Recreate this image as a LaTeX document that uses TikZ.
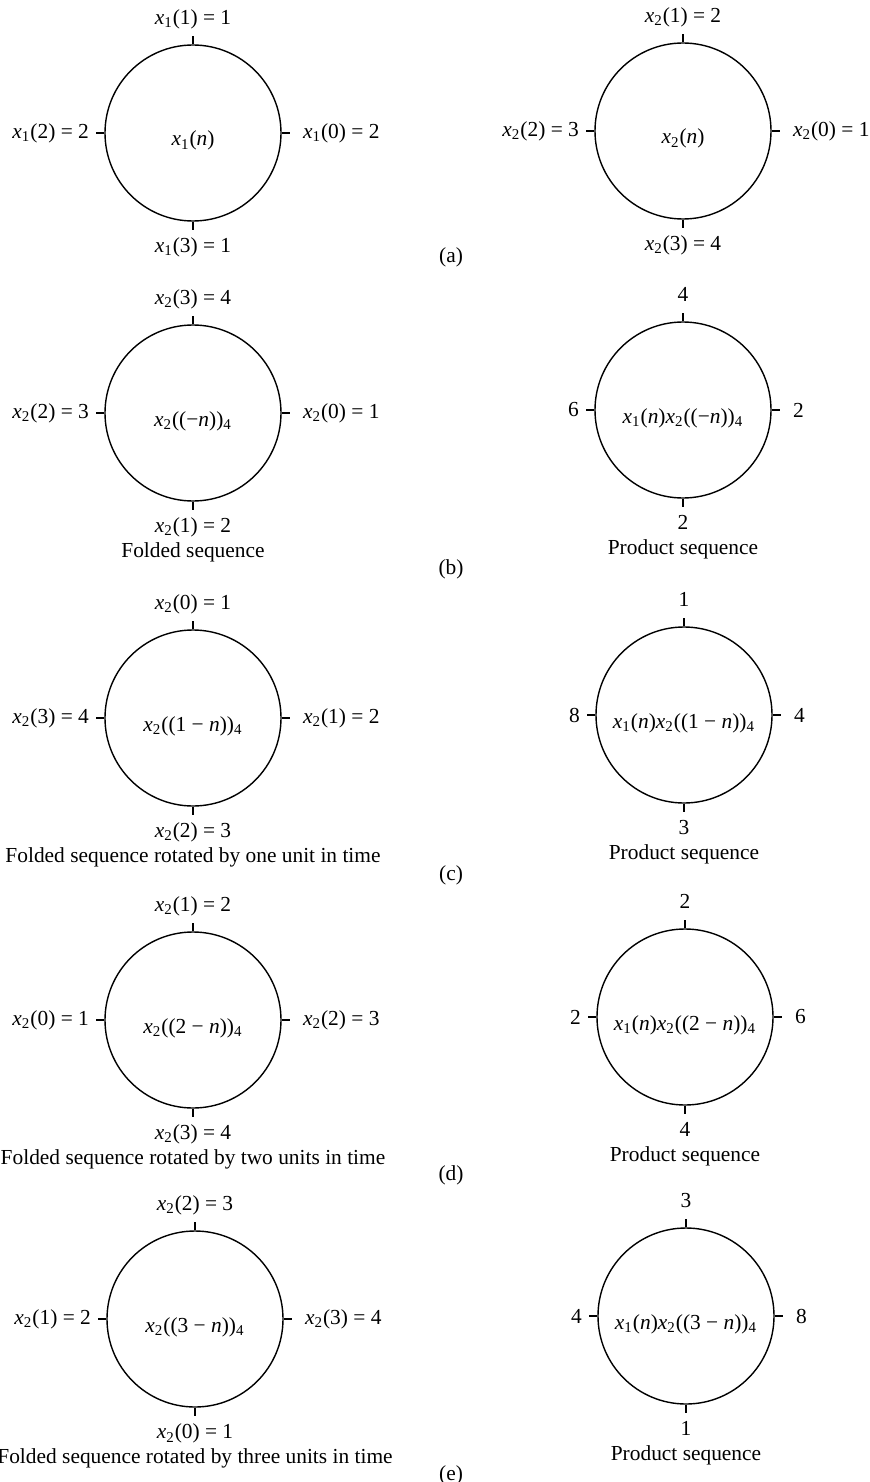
\documentclass[tikz,border=0pt]{standalone}
\usepackage{fontspec}
\setmainfont{Liberation Serif}
\usepackage{tikz}
\usetikzlibrary{positioning}
\newcommand{\xsub}[1]{\textit{x}\textsubscript{#1}}

\begin{document}
\begin{tikzpicture}[
  x=0.5pt, y=-0.5pt,
  font=\fontsize{10.7pt}{12.8pt}\selectfont,
  wheel/.style={circle, draw, line width=0.7pt, minimum size=88pt, inner sep=0pt},
  lbl/.style={inner sep=0pt},
  tick/.style={line width=0.6pt},
]
\useasboundingbox (0,0) rectangle (869,1482);

% (a) the two sequences
\node[wheel] (xa) at (193,133) {};
\node[lbl, below=6.5pt of xa.center, anchor=base] (xac) {\xsub{1}(\textit{n})};
\node[lbl, above=10pt of xa.north, anchor=base] (xat) {\xsub{1}(1) = 1};
\node[lbl, right=10.5pt of xa.east] (xar) {\xsub{1}(0) = 2};
\node[lbl, below=15.5pt of xa.south, anchor=base] (xab) {\xsub{1}(3) = 1};
\node[lbl, left=7.5pt of xa.west] (xal) {\xsub{1}(2) = 2};

\node[wheel] (xb) at (683,131) {};
\node[lbl, below=6.5pt of xb.center, anchor=base] (xbc) {\xsub{2}(\textit{n})};
\node[lbl, above=10pt of xb.north, anchor=base] (xbt) {\xsub{2}(1) = 2};
\node[lbl, right=10.5pt of xb.east] (xbr) {\xsub{2}(0) = 1};
\node[lbl, below=15.5pt of xb.south, anchor=base] (xbb) {\xsub{2}(3) = 4};
\node[lbl, left=7.5pt of xb.west] (xbl) {\xsub{2}(2) = 3};

% (b) folded, no shift
\node[wheel] (fa) at (193,413) {};
\node[lbl, below=6.5pt of fa.center, anchor=base] (fac) {\xsub{2}((−\textit{n}))\textsubscript{4}};
\node[lbl, above=10pt of fa.north, anchor=base] (fat) {\xsub{2}(3) = 4};
\node[lbl, right=10.5pt of fa.east] (far) {\xsub{2}(0) = 1};
\node[lbl, below=15.5pt of fa.south, anchor=base] (fab) {\xsub{2}(1) = 2};
\node[lbl, left=7.5pt of fa.west] (fal) {\xsub{2}(2) = 3};
\node[lbl, below=12.5pt of fab.base, anchor=base] (facap) {Folded sequence};

\node[wheel] (pa) at (683,410) {};
\node[lbl, below=6.5pt of pa.center, anchor=base] (pac) {\xsub{1}(\textit{n})\xsub{2}((−\textit{n}))\textsubscript{4}};
\node[lbl, above=10pt of pa.north, anchor=base] (pat) {4};
\node[lbl, right=10.5pt of pa.east] (par) {2};
\node[lbl, below=15.5pt of pa.south, anchor=base] (pab) {2};
\node[lbl, left=7.5pt of pa.west] (pal) {6};
\node[lbl, below=12.5pt of pab.base, anchor=base] (pacap) {Product sequence};

% (c) shifted by one
\node[wheel] (fb) at (193,718) {};
\node[lbl, below=6.5pt of fb.center, anchor=base] (fbc) {\xsub{2}((1 − \textit{n}))\textsubscript{4}};
\node[lbl, above=10pt of fb.north, anchor=base] (fbt) {\xsub{2}(0) = 1};
\node[lbl, right=10.5pt of fb.east] (fbr) {\xsub{2}(1) = 2};
\node[lbl, below=15.5pt of fb.south, anchor=base] (fbb) {\xsub{2}(2) = 3};
\node[lbl, left=7.5pt of fb.west] (fbl) {\xsub{2}(3) = 4};
\node[lbl, below=12.5pt of fbb.base, anchor=base] (fbcap) {Folded sequence rotated by one unit in time};

\node[wheel] (pb) at (684,715) {};
\node[lbl, below=6.5pt of pb.center, anchor=base] (pbc) {\xsub{1}(\textit{n})\xsub{2}((1 − \textit{n}))\textsubscript{4}};
\node[lbl, above=10pt of pb.north, anchor=base] (pbt) {1};
\node[lbl, right=10.5pt of pb.east] (pbr) {4};
\node[lbl, below=15.5pt of pb.south, anchor=base] (pbb) {3};
\node[lbl, left=7.5pt of pb.west] (pbl) {8};
\node[lbl, below=12.5pt of pbb.base, anchor=base] (pbcap) {Product sequence};

% (d) shifted by two
\node[wheel] (fc) at (193,1020) {};
\node[lbl, below=6.5pt of fc.center, anchor=base] (fcc) {\xsub{2}((2 − \textit{n}))\textsubscript{4}};
\node[lbl, above=10pt of fc.north, anchor=base] (fct) {\xsub{2}(1) = 2};
\node[lbl, right=10.5pt of fc.east] (fcr) {\xsub{2}(2) = 3};
\node[lbl, below=15.5pt of fc.south, anchor=base] (fcb) {\xsub{2}(3) = 4};
\node[lbl, left=7.5pt of fc.west] (fcl) {\xsub{2}(0) = 1};
\node[lbl, below=12.5pt of fcb.base, anchor=base] (fccap) {Folded sequence rotated by two units in time};

\node[wheel] (pc) at (685,1017) {};
\node[lbl, below=6.5pt of pc.center, anchor=base] (pcc) {\xsub{1}(\textit{n})\xsub{2}((2 − \textit{n}))\textsubscript{4}};
\node[lbl, above=10pt of pc.north, anchor=base] (pct) {2};
\node[lbl, right=10.5pt of pc.east] (pcr) {6};
\node[lbl, below=15.5pt of pc.south, anchor=base] (pcb) {4};
\node[lbl, left=7.5pt of pc.west] (pcl) {2};
\node[lbl, below=12.5pt of pcb.base, anchor=base] (pccap) {Product sequence};

% (e) shifted by three
\node[wheel] (fd) at (195,1319) {};
\node[lbl, below=6.5pt of fd.center, anchor=base] (fdc) {\xsub{2}((3 − \textit{n}))\textsubscript{4}};
\node[lbl, above=10pt of fd.north, anchor=base] (fdt) {\xsub{2}(2) = 3};
\node[lbl, right=10.5pt of fd.east] (fdr) {\xsub{2}(3) = 4};
\node[lbl, below=15.5pt of fd.south, anchor=base] (fdb) {\xsub{2}(0) = 1};
\node[lbl, left=7.5pt of fd.west] (fdl) {\xsub{2}(1) = 2};
\node[lbl, below=12.5pt of fdb.base, anchor=base] (fdcap) {Folded sequence rotated by three units in time};

\node[wheel] (pd) at (686,1316) {};
\node[lbl, below=6.5pt of pd.center, anchor=base] (pdc) {\xsub{1}(\textit{n})\xsub{2}((3 − \textit{n}))\textsubscript{4}};
\node[lbl, above=10pt of pd.north, anchor=base] (pdt) {3};
\node[lbl, right=10.5pt of pd.east] (pdr) {8};
\node[lbl, below=15.5pt of pd.south, anchor=base] (pdb) {1};
\node[lbl, left=7.5pt of pd.west] (pdl) {4};
\node[lbl, below=12.5pt of pdb.base, anchor=base] (pdcap) {Product sequence};

% tick marks at n = 0..3
\foreach \w in {xa,xb,fa,pa,fb,pb,fc,pc,fd,pd} {
  \draw[tick] (\w.north) -- ++(0,4pt);
  \draw[tick] (\w.south) -- ++(0,-4pt);
  \draw[tick] (\w.east) -- ++(4pt,0);
  \draw[tick] (\w.west) -- ++(-4pt,0);
}

% part letters
\node[lbl, anchor=base] (la) at (451,263) {(a)};
\node[lbl, anchor=base] (lb) at (451,574) {(b)};
\node[lbl, anchor=base] (lc) at (451,880) {(c)};
\node[lbl, anchor=base] (ld) at (451,1180) {(d)};
\node[lbl, anchor=base] (le) at (451,1480) {(e)};
\end{tikzpicture}
\end{document}
